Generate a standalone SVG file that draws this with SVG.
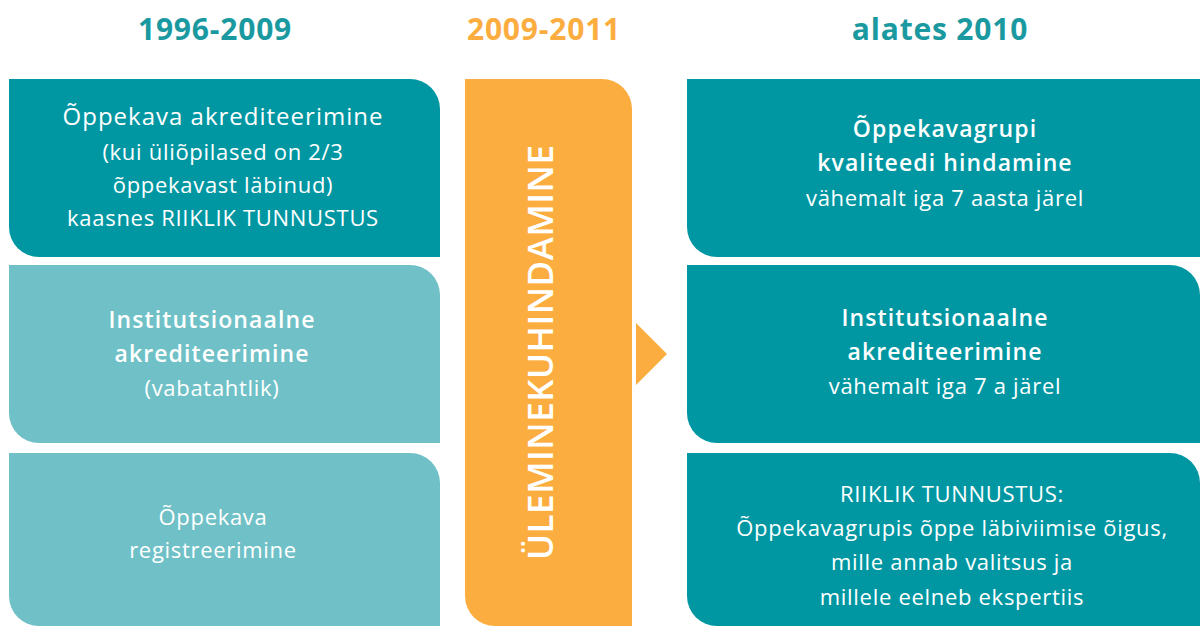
<svg xmlns="http://www.w3.org/2000/svg" width="1200" height="626" viewBox="0 0 1200 626">
<style>
.dark{fill:#0097a3}
.light{fill:#6fc1c7}
.orange{fill:#fbad3f}
text{font-family:"Open Sans","Noto Sans",sans-serif;fill:#ffffff;text-anchor:middle}
.h{font-size:30px;font-weight:700;letter-spacing:0.8px}
.b{font-size:23px;font-weight:600;letter-spacing:1.1px}
.t{font-size:24px;font-weight:400;letter-spacing:1px}
.r{font-size:22px;font-weight:400;letter-spacing:0.7px}
.v{font-size:35px;font-weight:600}
</style>
<rect width="1200" height="626" fill="#ffffff"/>
<g id="headers">
<text class="h" x="215" y="40" style="fill:#1a9aa0">1996-2009</text>
<text class="h" x="544" y="40" style="fill:#fbad3f">2009-2011</text>
<text class="h" x="940" y="40" style="fill:#1a9aa0">alates 2010</text>
</g>
<g id="left1">
<path class="dark" d="M9 79H410A30 30 0 0 1 440 109V257H39A30 30 0 0 1 9 227Z"/>
<text class="t" x="223" y="125">Õppekava akrediteerimine</text>
<text class="r" x="223" y="160">(kui üliõpilased on 2/3</text>
<text class="r" x="223" y="193">õppekavast läbinud)</text>
<text class="r" x="223" y="226">kaasnes RIIKLIK TUNNUSTUS</text>
</g>
<g id="left2">
<path class="light" d="M9 265H410A30 30 0 0 1 440 295V443H39A30 30 0 0 1 9 413Z"/>
<text class="b" x="212" y="328">Institutsionaalne</text>
<text class="b" x="212" y="362">akrediteerimine</text>
<text class="r" x="212" y="396">(vabatahtlik)</text>
</g>
<g id="left3">
<path class="light" d="M9 453H410A30 30 0 0 1 440 483V626H39A30 30 0 0 1 9 596Z"/>
<text class="r" x="213" y="525">Õppekava</text>
<text class="r" x="213" y="558">registreerimine</text>
</g>
<g id="middle">
<path class="orange" d="M465 79H602A30 30 0 0 1 632 109V626H495A30 30 0 0 1 465 596Z"/>
<text class="v" transform="translate(553 352.5) rotate(-90)" textLength="415" lengthAdjust="spacing">ÜLEMINEKUHINDAMINE</text>
</g>
<g id="connectors">
<path class="orange" d="M636 323L667 354L636 385Z"/>
</g>
<g id="right1">
<path class="dark" d="M687 79H1200V257H717A30 30 0 0 1 687 227Z"/>
<text class="b" x="945" y="137">Õppekavagrupi</text>
<text class="b" x="945" y="171">kvaliteedi hindamine</text>
<text class="r" x="945" y="206">vähemalt iga 7 aasta järel</text>
</g>
<g id="right2">
<path class="dark" d="M687 265H1170A30 30 0 0 1 1200 295V443H717A30 30 0 0 1 687 413Z"/>
<text class="b" x="945" y="326">Institutsionaalne</text>
<text class="b" x="945" y="360">akrediteerimine</text>
<text class="r" x="945" y="394">vähemalt iga 7 a järel</text>
</g>
<g id="right3">
<path class="dark" d="M687 453H1170A30 30 0 0 1 1200 483V626H717A30 30 0 0 1 687 596Z"/>
<text class="r" x="952" y="502">RIIKLIK TUNNUSTUS:</text>
<text class="r" x="952" y="536">Õppekavagrupis õppe läbiviimise õigus,</text>
<text class="r" x="952" y="570">mille annab valitsus ja</text>
<text class="r" x="952" y="605">millele eelneb ekspertiis</text>
</g>
</svg>
